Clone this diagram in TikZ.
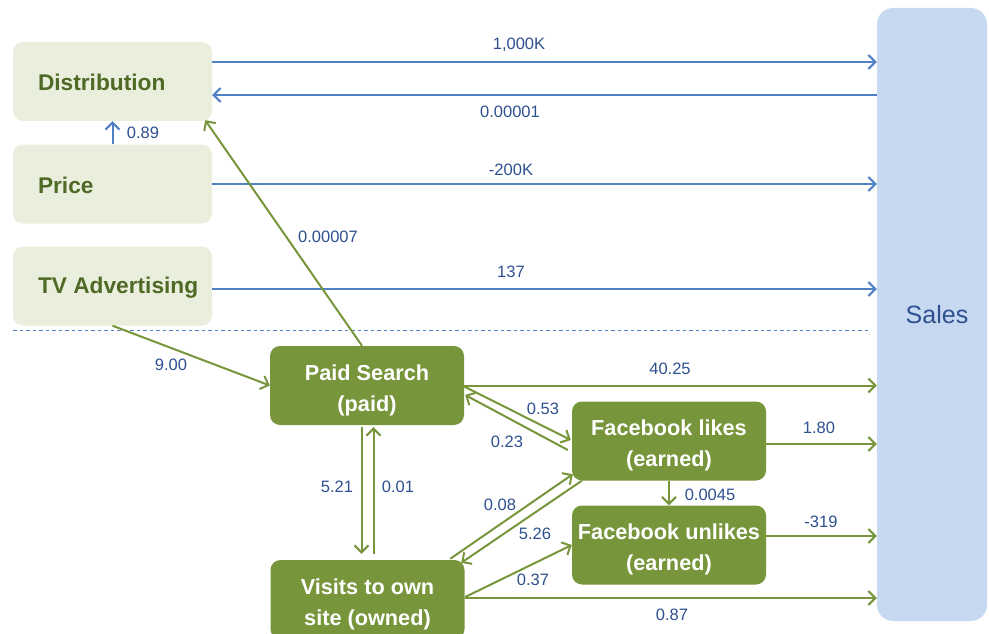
\documentclass[tikz,border=0pt]{standalone}
\usepackage{fontspec}
\setmainfont{Liberation Sans}
\usetikzlibrary{arrows.meta,calc}
\definecolor{lightbox}{HTML}{EAEEDC}
\definecolor{darkgreen}{HTML}{4F6A26}
\definecolor{olive}{HTML}{77953A}
\definecolor{lineblue}{HTML}{4F81C4}
\definecolor{lblblue}{HTML}{2E5090}
\definecolor{salesfill}{HTML}{C6D9F0}
\newcommand{\lft}[1]{\makebox[149pt][l]{\rule{0pt}{19pt}#1}}
\newcommand{\tstrut}{\rule{0pt}{25pt}}
\begin{document}
\begin{tikzpicture}[x=1pt,y=-1pt,
 topbox/.style={fill=lightbox, rounded corners=10pt, minimum width=199pt, minimum height=79pt, inner xsep=25pt, font=\fontsize{22.7}{26}\selectfont\bfseries, text=darkgreen},
 midbox/.style={fill=olive, rounded corners=10pt, minimum width=194pt, minimum height=79pt, align=center, font=\fontsize{21.7}{31}\selectfont\bfseries, text=white, inner sep=0pt},
 lbl/.style={font=\fontsize{16.5}{18}\selectfont, text=lblblue, inner sep=0pt},
 barrow/.style={draw=lineblue, line width=2pt, -{Straight Barb[length=7pt,width=14pt]}},
 garrow/.style={draw=olive, line width=2pt, -{Straight Barb[length=7pt,width=14pt]}},
]
\useasboundingbox (0,0) rectangle (989,634);
\clip (0,0) rectangle (989,634);

\node[topbox] (dist) at (112.5,81.5) {\lft{Distribution}};
\node[topbox] (price) at (112.5,184) {\lft{Price}};
\node[topbox] (tv) at (112.5,286) {\lft{TV Advertising}};
\node[fill=salesfill, rounded corners=16pt, minimum width=110pt, minimum height=613pt, font=\fontsize{25}{30}\selectfont, text=lblblue] (sales) at (932,314.5) {\hspace*{10pt}Sales};

\node[midbox] (ps) at (367,385.5) {\tstrut Paid Search\\(paid)};
\node[midbox] (vis) at (367.5,599.5) {\tstrut Visits to own\\site (owned)};
\node[midbox] (fbl) at (669,441) {\tstrut Facebook likes\\(earned)};
\node[midbox] (fbu) at (669,545) {\tstrut Facebook unlikes\\(earned)};

\coordinate (dashL) at (13,330);
\coordinate (dashR) at (870,330);
\draw[lineblue, line width=1pt, dash pattern=on 3.5pt off 3pt] (dashL) -- (dashR);

% blue connectors
\draw[barrow] (dist.east |- 0,62) -- (sales.west |- 0,62);
\draw[barrow] (sales.west |- 0,95) -- (dist.east |- 0,95);
\draw[barrow] (price.east) -- (sales.west |- price.east);
\draw[barrow] (tv.east |- 0,289) -- (sales.west |- 0,289);
\draw[barrow] (price.north) -- (dist.south);

% green connectors
\draw[garrow] ($(ps.north)+(-5,0)$) -- ($(dist.south east)+(-7,-1)$);
\draw[garrow] (tv.south) -- (ps.west);
\draw[garrow] (ps.east) -- (sales.west |- ps.east);
\draw[garrow] ($(ps.east)+(0,1)$) -- ($(fbl.west)+(-1,-1)$);
\draw[garrow] ($(fbl.west)+(-4,9)$) -- ($(ps.east)+(1,9.5)$);
\draw[garrow] ($(ps.south)+(-5.5,2)$) -- ($(vis.north)+(-6,-6)$);
\draw[garrow] ($(vis.north)+(6,-6)$) -- ($(ps.south)+(6.5,2)$);
\draw[garrow] ($(vis.north east)+(-14.5,-1)$) -- ($(fbl.south west)+(1,-6.5)$);
\draw[garrow] ($(fbl.south west)+(10,0)$) -- ($(vis.north east)+(-3.5,3)$);
\draw[garrow] ($(vis.east)+(0.5,-2.5)$) -- (fbu.west);
\draw[garrow] ($(vis.east)+(0.5,-1.5)$) -- (sales.west |- 0,598);
\draw[garrow] (fbl.south) -- (fbu.north);
\draw[garrow] (fbl.east |- 0,444) -- (sales.west |- 0,444);
\draw[garrow] (fbu.east |- 0,536) -- (sales.west |- 0,536);

% labels
\node[lbl] (l1) at (519,45) {1,000K};
\node[lbl] (l2) at (510,112) {0.00001};
\node[lbl] (l3) at (511,170) {-200K};
\node[lbl] (l4) at (511,272) {137};
\node[lbl] (l5) at (143,133) {0.89};
\node[lbl] (l6) at (328,237) {0.00007};
\node[lbl] (l7) at (171,365) {9.00};
\node[lbl] (l8) at (670,369) {40.25};
\node[lbl] (l9) at (543,409) {0.53};
\node[lbl] (l10) at (507,442) {0.23};
\node[lbl] (l11) at (337,487) {5.21};
\node[lbl] (l12) at (398,487) {0.01};
\node[lbl] (l13) at (500,505) {0.08};
\node[lbl] (l14) at (535,534) {5.26};
\node[lbl] (l15) at (533,580) {0.37};
\node[lbl] (l16) at (672,615) {0.87};
\node[lbl] (l17) at (710,495) {0.0045};
\node[lbl] (l18) at (819,428) {1.80};
\node[lbl] (l19) at (821,522) {-319};
\end{tikzpicture}
\end{document}
